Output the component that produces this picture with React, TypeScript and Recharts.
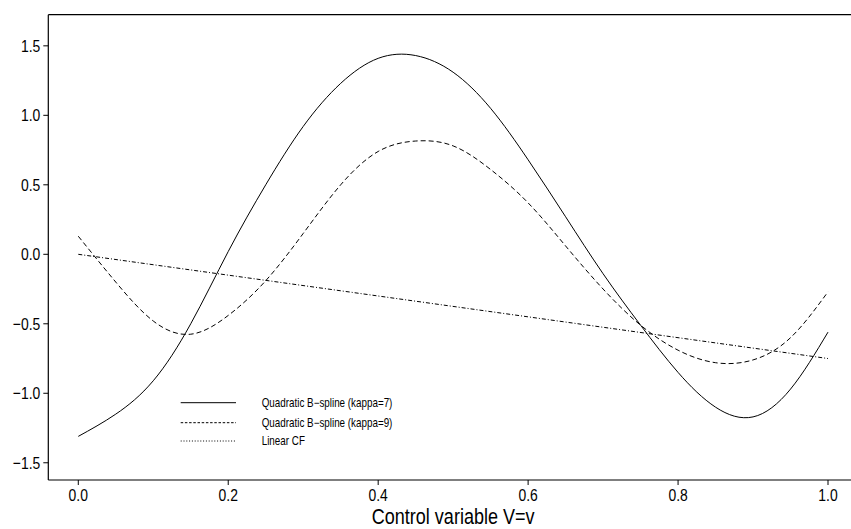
import React from "react";
import { LineChart, Line, XAxis, YAxis, ReferenceLine, Label } from "recharts";

// ---- data ----
const xGrid = [0, 0.05, 0.1, 0.15, 0.2, 0.25, 0.3, 0.35, 0.4, 0.45, 0.5, 0.55, 0.6, 0.65, 0.7, 0.75, 0.8, 0.85, 0.9, 0.95, 1.0];
const yKappa7 = [-1.31, -1.15, -0.91, -0.5, 0.02, 0.5, 0.92, 1.23, 1.41, 1.43, 1.31, 1.05, 0.68, 0.27, -0.14, -0.51, -0.85, -1.1, -1.17, -0.97, -0.56];
const yKappa9 = [0.13, -0.2, -0.48, -0.575, -0.44, -0.19, 0.15, 0.5, 0.74, 0.815, 0.78, 0.61, 0.37, 0.06, -0.25, -0.51, -0.69, -0.78, -0.76, -0.6, -0.27];

const xLinear = [0, 1];
const yLinear = [0, -0.75];

const xTicks = [0, 0.2, 0.4, 0.6, 0.8, 1.0];
const yTicks = [-1.5, -1.0, -0.5, 0, 0.5, 1.0, 1.5];

const seriesNames = [
  "Quadratic B\u2212spline (kappa=7)",
  "Quadratic B\u2212spline (kappa=9)",
  "Linear CF",
];
const xTitle = "Control variable V=v";

const toRows = (xs: number[], ys: number[]) => xs.map((x, i) => ({ x, y: ys[i] }));
const kappa7Data = toRows(xGrid, yKappa7);
const kappa9Data = toRows(xGrid, yKappa9);
const linearData = toRows(xLinear, yLinear);

const FONT = "'Liberation Sans', Arial, Helvetica, sans-serif";
const SQUEEZE = 0.82;
const fmt = (v: number) => (v < 0 ? "\u2212" + Math.abs(v).toFixed(1) : v.toFixed(1));

const lineStyles = [
  { plotDash: undefined as string | undefined, legendDash: undefined as string | undefined },
  { plotDash: "5 3", legendDash: "2.5 1.7" },
  { plotDash: "4 2 1 2", legendDash: "1 1.8" },
];

function NarrowText(props: { x: number; y: number; anchor: string; dy: string; size: number; children: any }) {
  return (
    <text
      transform={`translate(${props.x},${props.y}) scale(${SQUEEZE},1)`}
      x={0}
      y={0}
      dy={props.dy}
      textAnchor={props.anchor}
      fontSize={props.size}
      fontFamily={FONT}
      fill="#000"
    >
      {props.children}
    </text>
  );
}

const XTick = (p: any) => (
  <NarrowText x={p.x} y={p.y} anchor="middle" dy="0.71em" size={17}>
    {fmt(p.payload.value)}
  </NarrowText>
);
const YTick = (p: any) => (
  <NarrowText x={p.x} y={p.y} anchor="end" dy="0.355em" size={17}>
    {fmt(p.payload.value)}
  </NarrowText>
);

export default function App() {
  return (
    <div style={{ position: "absolute", left: 0, top: 0, width: 851, height: 529, overflow: "hidden", background: "#fff" }}>
      <LineChart width={880} height={529} margin={{ top: 14.7, right: 22, bottom: 0, left: 0.3 }}>
        <XAxis
          dataKey="x"
          type="number"
          domain={[-0.04, 1.04]}
          ticks={xTicks}
          interval={0}
          allowDataOverflow
          height={49}
          tickSize={5}
          tickMargin={4}
          axisLine={{ stroke: "#000", strokeWidth: 1.2 }}
          tickLine={{ stroke: "#000" }}
          tick={XTick}
        >
          <Label
            content={(props: any) => {
              const vb = props.viewBox || { x: 0, width: 0 };
              return (
                <NarrowText x={vb.x + vb.width / 2} y={524.3} anchor="middle" dy="0" size={22}>
                  {xTitle}
                </NarrowText>
              );
            }}
          />
        </XAxis>
        <YAxis
          type="number"
          domain={[-1.624, 1.724]}
          ticks={yTicks}
          interval={0}
          allowDataOverflow
          width={48}
          tickSize={5}
          tickMargin={3}
          axisLine={{ stroke: "#000", strokeWidth: 1.2 }}
          tickLine={{ stroke: "#000" }}
          tick={YTick}
        />
        <ReferenceLine y={1.724} stroke="#000" strokeWidth={1.2} ifOverflow="visible" />
        <Line data={kappa7Data} dataKey="y" type="natural" dot={false} stroke="#000" strokeWidth={1} isAnimationActive={false} />
        <Line data={kappa9Data} dataKey="y" type="natural" dot={false} stroke="#000" strokeWidth={1} strokeDasharray={lineStyles[1].plotDash} isAnimationActive={false} />
        <Line data={linearData} dataKey="y" type="linear" dot={false} stroke="#000" strokeWidth={1} strokeDasharray={lineStyles[2].plotDash} isAnimationActive={false} />
      </LineChart>
      <svg width={260} height={60} style={{ position: "absolute", left: 170, top: 392 }}>
        {seriesNames.map((name, i) => {
          const y = [10.7, 30.7, 49][i];
          return (
            <g key={name}>
              <line x1={10.7} x2={66} y1={y} y2={y} stroke="#000" strokeWidth={1} strokeDasharray={lineStyles[i].legendDash} />
              <NarrowText x={91.7} y={y} anchor="start" dy="0.35em" size={12}>
                {name}
              </NarrowText>
            </g>
          );
        })}
      </svg>
    </div>
  );
}
